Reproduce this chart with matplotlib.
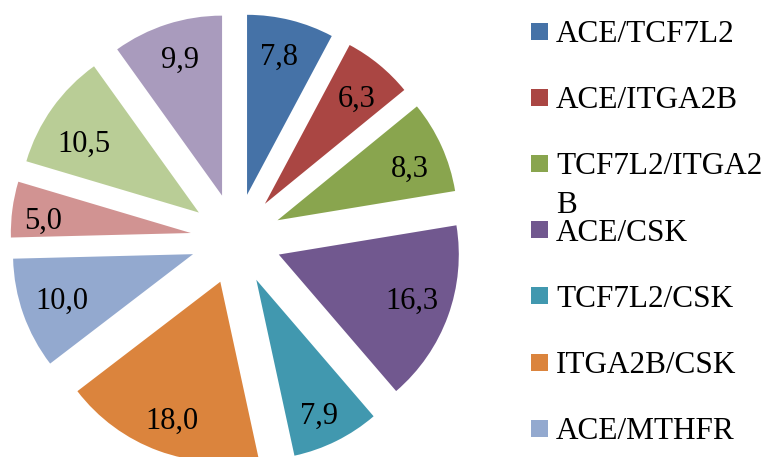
import numpy as np
import matplotlib
matplotlib.use("Agg")
import matplotlib.pyplot as plt
from matplotlib.patches import Rectangle

plt.rcParams['font.family'] = ['Liberation Serif', 'DejaVu Serif']

# доли сочетаний генотипов, % (порядок по часовой стрелке от 12 часов)
values = [7.8, 6.3, 8.3, 16.3, 7.9, 18.0, 10.0, 5.0, 10.5, 9.9]
colors = ['#4572A7', '#AA4643', '#89A54E', '#71588F', '#4198AF',
          '#DB843D', '#93A9CF', '#D19392', '#B9CD96', '#A99BBD']
# в исходнике легенда обрезана снизу - видно только 7 подписей
legend_names = ['ACE/TCF7L2', 'ACE/ITGA2B', 'TCF7L2/ITGA2\nB', 'ACE/CSK',
                'TCF7L2/CSK', 'ITGA2B/CSK', 'ACE/MTHFR']

# раскладка подписей внутри секторов (как Excel расставил): доля радиуса и сдвиг угла, град по часовой
label_r = [0.80, 0.79, 0.795, 0.775, 0.818, 0.803, 0.768, 0.825, 0.755, 0.805]
label_dang = [-1.4, 1.0, 2.0, -2.0, 1.3, -0.7, 0.9, -1.8, -3.5, 0.9]

W, H = 768, 457
fig = plt.figure(figsize=(W / 100, H / 100), dpi=100)

# круг: центр (236, 239) px, радиус 180 px
R_PX = 180.0
cx, cy = 236.0, 239.0
ax = fig.add_axes([0, 0, 472 / W, 1])

wedges, _ = ax.pie(values, colors=colors, explode=[0.253] * len(values),
                   startangle=90, counterclock=False,
                   wedgeprops=dict(linewidth=0))

for w, v, rf, da in zip(wedges, values, label_r, label_dang):
    ang = np.deg2rad((w.theta1 + w.theta2) / 2 - da)
    x0, y0 = w.center
    ax.text(x0 + rf * np.cos(ang), y0 + rf * np.sin(ang),
            f"{v:.1f}".replace('.', ','), ha='center', va='center_baseline',
            fontsize=22, color='black')

ax.set_xlim(-cx / R_PX, (472 - cx) / R_PX)
ax.set_ylim(-(H - cy) / R_PX, cy / R_PX)
ax.set_aspect('auto')
ax.axis('off')

# легенда вручную: записи через равный шаг, перенос строки как в Excel
y0, step, line_h = 31.0, 66.2, 39.0
for i, name in enumerate(legend_names):
    yc = y0 + step * i
    fig.patches.append(Rectangle((531 / W, 1 - (yc + 8.5) / H), 17 / W, 17 / H,
                                 transform=fig.transFigure, facecolor=colors[i],
                                 edgecolor='none'))
    for j, line in enumerate(name.split('\n')):
        fig.text(556 / W, 1 - (yc + line_h * j) / H, line, fontsize=22.5,
                 ha='left', va='center_baseline', color='black')

fig.savefig('out.png', dpi=100)
